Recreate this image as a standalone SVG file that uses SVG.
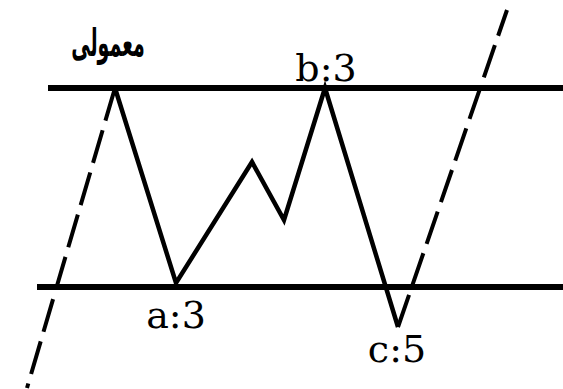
<svg xmlns="http://www.w3.org/2000/svg" width="563" height="389" viewBox="0 0 563 389">
<style>
.lvl{stroke:#000;stroke-width:6;fill:none}
.zig{stroke:#000;stroke-width:4.5;fill:none;stroke-linejoin:miter}
.dash{stroke:#000;stroke-width:4;fill:none;stroke-dasharray:34 10}
.lbl{font-family:'DejaVu Serif','Liberation Serif',serif;font-size:38px;fill:#000}
.ar{font-family:'DejaVu Sans','Noto Sans',sans-serif;font-size:38px;font-weight:bold;fill:#000}
</style>
<rect width="563" height="389" fill="#fff"/>
<g id="connectors">
<line class="lvl" x1="48" y1="88" x2="563" y2="88"/>
<line class="lvl" x1="37" y1="287" x2="563" y2="287"/>
<polyline class="zig" points="115,88 176,283 252,162 284,220 325,88 398,327"/>
<line class="dash" x1="115" y1="88" x2="27" y2="388"/>
<line class="dash" x1="398" y1="327" x2="507" y2="10"/>
</g>
<g id="label-normal"><text class="ar" transform="translate(108,56) scale(0.5,1)" text-anchor="middle">معمولی</text></g>
<g id="label-b"><text class="lbl" x="326" y="81" text-anchor="middle">b:3</text></g>
<g id="label-a"><text class="lbl" x="176" y="328" text-anchor="middle">a:3</text></g>
<g id="label-c"><text class="lbl" x="397" y="362" text-anchor="middle">c:5</text></g>
</svg>
